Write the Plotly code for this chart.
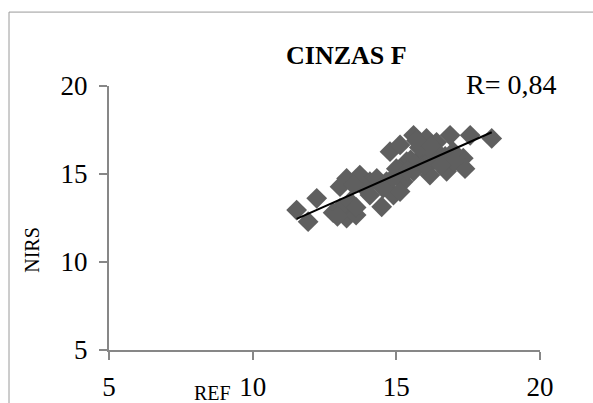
import numpy as np
import plotly.graph_objects as go

# Reference (lab) values vs NIRS predictions for ash content
ref_values = [11.53, 11.93, 12.23, 12.80, 13.27, 13.60, 14.49, 13.27, 13.73, 13.04,
              14.08, 14.32, 14.66, 14.90, 14.78, 15.13, 15.60, 16.05, 16.40, 16.87,
              17.57, 18.32, 17.33, 17.39, 16.75, 16.17, 15.60, 15.24, 15.13, 15.36,
              15.94, 16.52, 16.98, 15.00, 14.54, 13.85, 14.08, 13.04, 13.39,
              15.50, 16.00, 16.30, 16.70, 17.00, 15.80, 16.20, 15.40, 14.90, 13.50,
              13.60, 12.95, 15.70, 16.55]
nirs_values = [12.95, 12.29, 13.62, 12.80, 12.50, 12.67, 13.14, 14.75, 14.94, 14.28,
               14.56, 14.75, 14.56, 13.80, 16.27, 16.65, 17.20, 17.02, 16.80, 17.20,
               17.20, 17.02, 15.90, 15.30, 15.15, 14.94, 15.15, 14.56, 14.00, 15.70,
               16.08, 16.08, 16.27, 15.30, 14.20, 14.28, 13.80, 13.05, 13.43,
               15.80, 15.50, 15.80, 16.00, 15.70, 16.50, 16.60, 15.20, 14.80, 14.40,
               13.10, 12.60, 16.90, 15.50]

title_text = "CINZAS F"
r_text = "R= 0,84"
x_title = "REF"
y_title = "NIRS"
tick_vals = [5, 10, 15, 20]

# Linear trend line over the range of the reference values
slope, intercept = np.polyfit(ref_values, nirs_values, 1)
trend_x = np.array([min(ref_values), max(ref_values)])
trend_y = slope * trend_x + intercept

serif = "Liberation Serif, Times New Roman, serif"
axis_grey = "#878787"

fig = go.Figure()
fig.add_trace(go.Scatter(
    x=ref_values, y=nirs_values, mode="markers",
    marker=dict(symbol="diamond", size=16, color="#5f5f5f", line=dict(width=0)),
    showlegend=False, hoverinfo="x+y",
))
fig.add_trace(go.Scatter(
    x=trend_x, y=trend_y, mode="lines",
    line=dict(color="black", width=2), showlegend=False, hoverinfo="skip",
))

axis_common = dict(
    range=[5, 20], tickvals=tick_vals, showgrid=False, zeroline=False,
    showline=True, linecolor=axis_grey, linewidth=2,
    ticks="outside", ticklen=8, tickwidth=2, tickcolor=axis_grey,
    tickfont=dict(family=serif, size=27, color="black"),
    automargin=False,
)

fig.update_layout(
    width=593, height=403,
    margin=dict(l=109, r=53, t=86, b=53),
    paper_bgcolor="white", plot_bgcolor="white",
    xaxis=dict(**axis_common, ticklabelstandoff=4),
    yaxis=dict(**axis_common, ticklabelstandoff=6),
    annotations=[
        dict(text=f"<b>{title_text}</b>", x=0.552, y=1.117, xref="paper", yref="paper",
             showarrow=False, font=dict(family=serif, size=26, color="black"),
             xanchor="center", yanchor="middle"),
        dict(text=r_text, x=0.933, y=1.004, xref="paper", yref="paper",
             showarrow=False, font=dict(family=serif, size=28, color="black"),
             xanchor="center", yanchor="middle"),
        dict(text=x_title, x=0.239, y=-0.163, xref="paper", yref="paper",
             showarrow=False, font=dict(family=serif, size=20, color="black"),
             xanchor="center", yanchor="middle"),
        dict(text=y_title, x=-0.179, y=0.379, xref="paper", yref="paper",
             showarrow=False, textangle=-90,
             font=dict(family=serif, size=20, color="black"),
             xanchor="center", yanchor="middle"),
    ],
    shapes=[
        # outer chart frame, running past the right and bottom edges
        dict(type="rect", xref="paper", yref="paper",
             x0=-0.232, x1=1.3, y0=-0.4, y1=1.28,
             line=dict(color="#9a9a9a", width=1), fillcolor="rgba(0,0,0,0)", layer="below"),
    ],
)

fig.write_html("out.html")
